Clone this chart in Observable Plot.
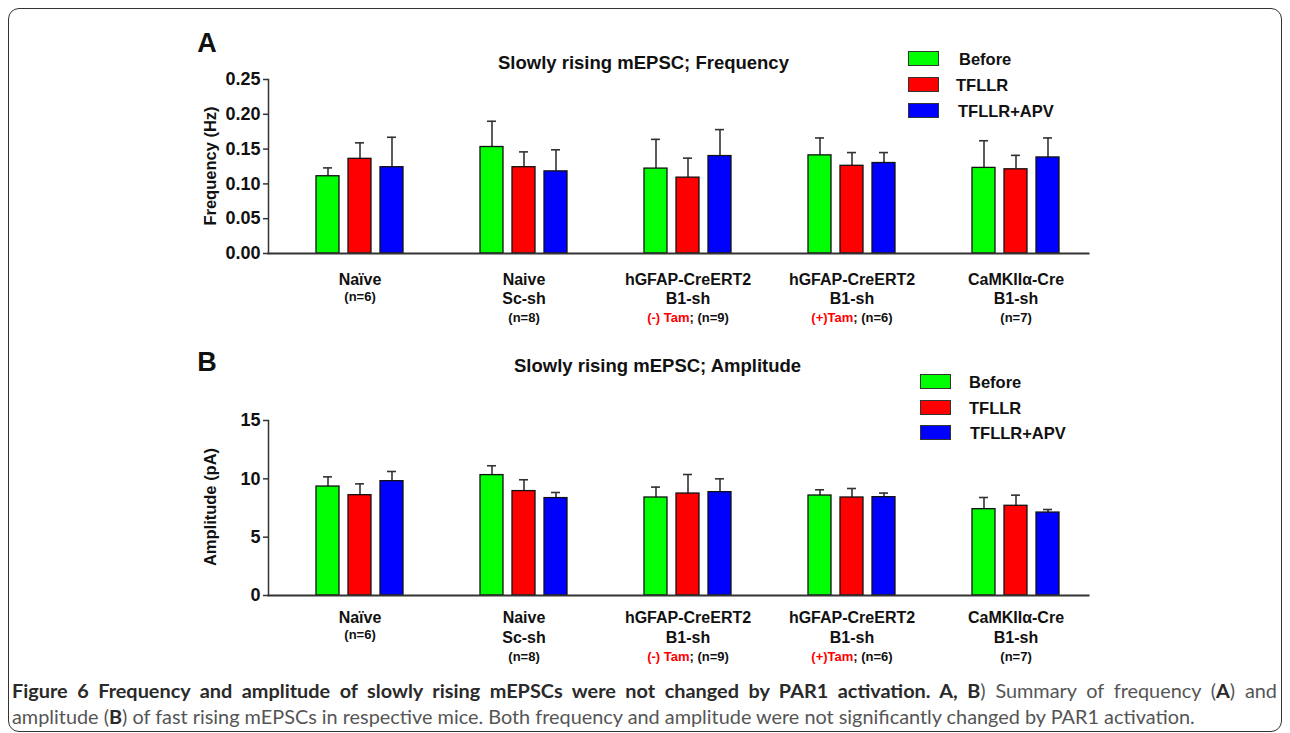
<!DOCTYPE html>
<html><head><meta charset="utf-8">
<script src="https://cdn.jsdelivr.net/npm/d3@7"></script>
<script src="https://cdn.jsdelivr.net/npm/@observablehq/plot@0.6"></script>
<style>
html,body{margin:0;padding:0;background:#fff;overflow:hidden;}
body{width:1290px;height:733px;position:relative;font-family:"Liberation Sans",Arial,sans-serif;color:#111;}
.abs{position:absolute;white-space:nowrap;line-height:1;}
.plot-holder{position:absolute;left:0;}
.letter{font-size:27px;font-weight:bold;transform:translate(-50%,-50%);}
.title{font-size:18.5px;font-weight:bold;transform:translateY(-50%);}
.ylab{font-size:16.5px;font-weight:bold;transform:translate(-50%,-50%) rotate(-90deg);}
.lgbox{position:absolute;width:29px;height:13px;border:1.5px solid #333;}
.lgtxt{font-size:16.5px;font-weight:bold;transform:translateY(-50%);}
#border{position:absolute;left:8px;top:8px;width:1272px;height:722px;border:1.6px solid #333;border-radius:11px;pointer-events:none;}
#cap{position:absolute;left:12px;top:677px;width:1265px;font-family:Lato,"Open Sans",sans-serif;color:#555;line-height:26px;}
#cap b{color:#2a2a2a;}
#c1{white-space:nowrap;text-align:justify;text-align-last:justify;}
#c2{white-space:nowrap;}
</style></head><body>
<div id="border"></div>
<div id="pA" class="plot-holder" style="top:0"></div>
<div id="pB" class="plot-holder" style="top:340px"></div>
<div id="overlay"></div>
<div id="cap"><div id="c1"><b>Figure 6 Frequency and amplitude of slowly rising mEPSCs were not changed by PAR1 activation. A, B</b>) Summary of frequency (<b>A</b>) and</div><div id="c2"><span id="c2s">amplitude (<b>B</b>) of fast rising mEPSCs in respective mice. Both frequency and amplitude were not significantly changed by PAR1 activation.</span></div></div>
<script>
// ---------- data ----------
const groups = ["Naïve", "Naive Sc-sh", "hGFAP-CreERT2 B1-sh (-) Tam", "hGFAP-CreERT2 B1-sh (+)Tam", "CaMKIIα-Cre B1-sh"];
const groupLine1 = ["Naïve", "Naive", "hGFAP-CreERT2", "hGFAP-CreERT2", "CaMKIIα-Cre"];
const groupLine2 = ["", "Sc-sh", "B1-sh", "B1-sh", "B1-sh"];
const tamNotes = ["", "", "(-) Tam", "(+)Tam", ""];
const nLabels = ["(n=6)", "(n=8)", "(n=9)", "(n=6)", "(n=7)"];
const series = ["Before", "TFLLR", "TFLLR+APV"];
const colors = ["#00ff00", "#ff0000", "#0000ff"];

// Panel A: frequency (Hz), mean and SEM
const freqBefore = [0.111, 0.153, 0.122, 0.141, 0.123];
const freqBeforeSem = [0.012, 0.037, 0.042, 0.025, 0.039];
const freqTFLLR = [0.136, 0.124, 0.109, 0.126, 0.121];
const freqTFLLRSem = [0.023, 0.022, 0.028, 0.019, 0.020];
const freqAPV = [0.124, 0.118, 0.140, 0.130, 0.138];
const freqAPVSem = [0.043, 0.031, 0.038, 0.015, 0.028];
const freqTicks = [0, 0.05, 0.10, 0.15, 0.20, 0.25];

// Panel B: amplitude (pA), mean and SEM
const ampBefore = [9.34, 10.32, 8.40, 8.57, 7.40];
const ampBeforeSem = [0.83, 0.80, 0.89, 0.49, 1.00];
const ampTFLLR = [8.60, 8.95, 8.74, 8.40, 7.69];
const ampTFLLRSem = [0.97, 0.97, 1.63, 0.77, 0.91];
const ampAPV = [9.80, 8.35, 8.86, 8.43, 7.11];
const ampAPVSem = [0.83, 0.48, 1.14, 0.35, 0.26];
const ampTicks = [0, 5, 10, 15];

// ---------- build ----------
function rows(vals, sems) {
  return series.flatMap((s, j) => groups.map((g, i) => ({group: g, series: s, value: vals[j][i], sem: sems[j][i]})));
}
const dataA = rows([freqBefore, freqTFLLR, freqAPV], [freqBeforeSem, freqTFLLRSem, freqAPVSem]);
const dataB = rows([ampBefore, ampTFLLR, ampAPV], [ampBeforeSem, ampTFLLRSem, ampAPVSem]);

const FONT = '"Liberation Sans", Arial, sans-serif';
function panel({data, yDomain, yTicks, yFormat, marginTop, marginBottom, offs}) {
  const mid = () => series[1];
  const labelStyle = {fx: d => d, x: mid, frameAnchor: "bottom", lineAnchor: "middle", fontWeight: "bold", fill: "#111"};
  return Plot.plot({
    width: 1290, height: 340, marginLeft: 268, marginRight: 184, marginTop, marginBottom,
    style: {fontFamily: FONT, background: "transparent", maxWidth: "none", overflow: "visible", color: "#111"},
    fx: {domain: groups, paddingInner: 0, paddingOuter: 0.047, align: 0, axis: null, label: null},
    x: {domain: series, paddingInner: 0.288, paddingOuter: 1.136, align: 0.627, axis: null, label: null},
    y: {domain: yDomain},
    color: {domain: series, range: colors},
    marks: [
      Plot.ruleX(data, {fx: "group", x: "series", y1: "value", y2: d => d.value + d.sem, stroke: "#333", strokeWidth: 1.6}),
      Plot.tickY(data, {fx: "group", x: "series", y: d => d.value + d.sem, insetLeft: 7, insetRight: 7, stroke: "#333", strokeWidth: 1.6}),
      Plot.barY(data, {fx: "group", x: "series", y: "value", fill: "series", stroke: "#111", strokeWidth: 1.3}),
      Plot.axisY({ticks: yTicks, tickFormat: yFormat, tickSize: 5, tickPadding: 3, fontSize: 18, fontWeight: "bold", stroke: "#333", strokeWidth: 1.5, label: null, fill: "#111"}),
      Plot.frame({anchor: "left", facet: "super", stroke: "#333", strokeWidth: 1.5}),
      Plot.frame({anchor: "bottom", facet: "super", stroke: "#333", strokeWidth: 2}),
      Plot.text(groups, {...labelStyle, text: (d, i) => groupLine1[i], dy: offs.l1, fontSize: 16}),
      Plot.text(groups, {...labelStyle, filter: (d, i) => groupLine2[i] !== "", text: (d, i) => groupLine2[i], dy: offs.l2, fontSize: 16}),
      Plot.text(groups, {...labelStyle, filter: (d, i) => groupLine2[i] === "", text: (d, i) => nLabels[i], dy: offs.n2, fontSize: 13}),
      Plot.text(groups, {...labelStyle, filter: (d, i) => groupLine2[i] !== "", text: (d, i) => tamNotes[i] ? `${tamNotes[i]}; ${nLabels[i]}` : nLabels[i], dy: offs.n3, fontSize: 13})
    ]
  });
}

function colorTam(svg) {
  svg.querySelectorAll("text").forEach(t => {
    const s = t.textContent;
    const k = s.indexOf("Tam;");
    if (k >= 0 && t.children.length === 0) {
      const red = s.slice(0, k + 3), rest = s.slice(k + 3);
      t.textContent = "";
      const ns = "http://www.w3.org/2000/svg";
      const a = document.createElementNS(ns, "tspan"); a.setAttribute("fill", "#ff0000"); a.textContent = red;
      const b = document.createElementNS(ns, "tspan"); b.textContent = rest;
      t.appendChild(a); t.appendChild(b);
    }
  });
}

const svgA = panel({data: dataA, yDomain: [0, 0.25], yTicks: freqTicks, yFormat: d3.format(".2f"), marginTop: 79, marginBottom: 87,
  offs: {l1: 26, l2: 45, n2: 43, n3: 64}});
const svgB = panel({data: dataB, yDomain: [0, 15], yTicks: ampTicks, yFormat: d3.format("d"), marginTop: 80, marginBottom: 85,
  offs: {l1: 22, l2: 42, n2: 39, n3: 61}});
colorTam(svgA); colorTam(svgB);
document.getElementById("pA").appendChild(svgA);
document.getElementById("pB").appendChild(svgB);

// ---------- overlay texts & legends ----------
const ov = document.getElementById("overlay");
function add(cls, text, style) {
  const d = document.createElement("div");
  d.className = "abs " + cls; d.textContent = text;
  Object.assign(d.style, style); ov.appendChild(d); return d;
}
add("letter", "A", {left: "207px", top: "43px"});
add("letter", "B", {left: "207px", top: "362px"});
add("title", "Slowly rising mEPSC; Frequency", {left: "498px", top: "63px"});
add("title", "Slowly rising mEPSC; Amplitude", {left: "514px", top: "366px"});
add("ylab", "Frequency (Hz)", {left: "210px", top: "166px"});
add("ylab", "Amplitude (pA)", {left: "210px", top: "507px"});

function legend(boxLeft, tops, textLefts) {
  series.forEach((s, i) => {
    const b = document.createElement("div");
    b.className = "lgbox";
    Object.assign(b.style, {left: boxLeft + "px", top: tops[i] + "px", background: colors[i]});
    ov.appendChild(b);
    add("lgtxt", s, {left: textLefts[i] + "px", top: (tops[i] + 8) + "px"});
  });
}
legend(908, [51, 77, 103], [959, 956, 958]);
legend(920, [374, 400, 425], [969, 969, 970]);

// caption: size so the (unjustified) last line spans like the reference; first line is justified
const cap = document.getElementById("cap");
cap.style.fontSize = "18px";
const w2 = document.getElementById("c2s").getBoundingClientRect().width;
cap.style.fontSize = (18 * 1183 / w2) + "px";
</script>
</body></html>
